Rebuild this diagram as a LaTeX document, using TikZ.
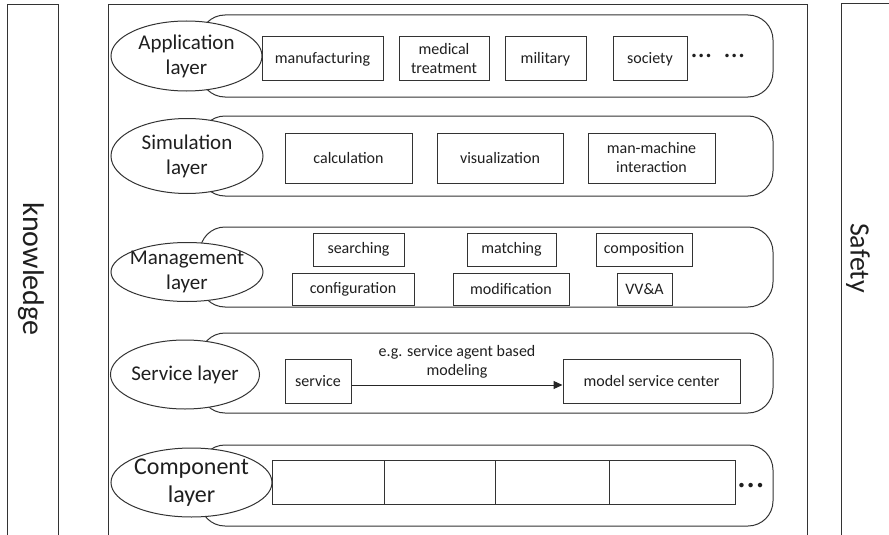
\documentclass[tikz,border=0pt]{standalone}
\usepackage{fontspec}
\setmainfont{Carlito}
\usetikzlibrary{shapes.geometric,arrows.meta}
\begin{document}
\begin{tikzpicture}[x=1pt,y=-1pt,line width=1pt,
  every node/.style={text=black!88},
  frame/.style={draw=black!80},
  layerbox/.style={draw=black!80, rounded corners=25pt, minimum width=573pt,
    inner sep=0pt, outer sep=0pt},
  tag/.style={draw=black!80, ellipse, fill=white, inner sep=-20pt, align=center,
    font=\fontsize{21}{25}\selectfont},
  item/.style={draw=black!80, fill=white, inner sep=0pt, align=center,
    font=\fontsize{16}{19}\selectfont},
  cell/.style={draw=black!80, inner sep=0pt, outer sep=0pt, minimum height=44pt},
  side/.style={rotate=-90, font=\fontsize{28}{32}\selectfont},
  more/.style={inner sep=0pt, anchor=base},
]
\useasboundingbox (0,0) rectangle (889,535);
\clip (0,0) rectangle (889,535);

% outer frames, open at the page edge
\draw[frame] (7,545) |- (58,5) -- (58,545);
\draw[frame] (108,545) |- (807,5) -- (807,545);
\draw[frame] (841,545) |- (900,4);
\node[side, font=\fontsize{30}{34}\selectfont] (knowledge) at (31,269) {knowledge};
\node[side] (safety) at (858,258) {Safety};

% layer bands
\node[layerbox, minimum height=82pt] (appband) at (486.5,56) {};
\node[layerbox, minimum height=80pt] (simband) at (486.5,156) {};
\node[layerbox, minimum height=80pt] (mgmtband) at (486.5,267) {};
\node[layerbox, minimum height=80pt] (svcband) at (486.5,373) {};
\node[layerbox, minimum height=81pt] (compband) at (486.5,485.5) {};

% layer names
\node[tag, minimum width=151pt, minimum height=70pt] (app) at (186.5,56) {Application\\layer};
\node[tag, minimum width=152pt, minimum height=75pt] (sim) at (187,156) {Simulation\\layer};
\node[tag, minimum width=152pt, minimum height=59pt] (mgmt) at (187,272) {Management\\layer};
\node[tag, minimum width=149pt, minimum height=69pt] (svc) at (185,374.5) {Service layer};
\node[tag, minimum width=161pt, minimum height=69pt, font=\fontsize{24}{28}\selectfont] (comp) at (191.5,482.5) {Component\\layer};

% application layer
\node[item, minimum width=121pt, minimum height=44pt] (manu) at (322.5,59) {manufacturing};
\node[item, minimum width=90pt, minimum height=44pt] (medical) at (444,59) {medical\\treatment};
\node[item, minimum width=81pt, minimum height=44pt] (military) at (545.5,59) {military};
\node[item, minimum width=74pt, minimum height=44pt] (society) at (650,59) {society};
\node[more, font=\fontsize{29}{30}\selectfont] (appmore) at (718,57.5) {…\hspace{13pt}…};

% simulation layer
\node[item, minimum width=127pt, minimum height=50pt] (calc) at (348.5,158) {calculation};
\node[item, minimum width=126pt, minimum height=50pt] (vis) at (500,158) {visualization};
\node[item, minimum width=127pt, minimum height=50pt] (mmi) at (651.5,158) {man-machine\\interaction};

% management layer
\node[item, minimum width=91pt, minimum height=33pt] (search) at (358.5,249.5) {searching};
\node[item, minimum width=89pt, minimum height=33pt] (match) at (511.5,249.5) {matching};
\node[item, minimum width=96pt, minimum height=33pt] (compo) at (644,249.5) {composition};
\node[item, minimum width=122pt, minimum height=32pt] (config) at (353,289) {configuration};
\node[item, minimum width=116pt, minimum height=32pt] (modif) at (511,289) {modification};
\node[item, minimum width=55pt, minimum height=32pt] (vva) at (644.5,289) {VV\&A};

% service layer
\node[item, minimum width=66pt, minimum height=44pt] (service) at (318,381) {service};
\node[item, minimum width=177pt, minimum height=44pt] (center) at (651.5,381) {model service center};
\draw[draw=black!85, -{Triangle[length=9pt,width=8pt]}]
  ([yshift=-4pt]service.east) -- ([yshift=-4pt]center.west)
  node[midway, above=3pt, align=center, font=\fontsize{16}{19}\selectfont, text=black!88] (via)
  {e.g. service agent based\\modeling};

% component layer
\node[cell, minimum width=112pt] (c1) at (328,482) {};
\node[cell, minimum width=111pt] (c2) at (439.5,482) {};
\node[cell, minimum width=114pt] (c3) at (552,482) {};
\node[cell, minimum width=126pt] (c4) at (672,482) {};
\node[more, font=\fontsize{37}{38}\selectfont] (compmore) at (751,487) {…};
\end{tikzpicture}
\end{document}
